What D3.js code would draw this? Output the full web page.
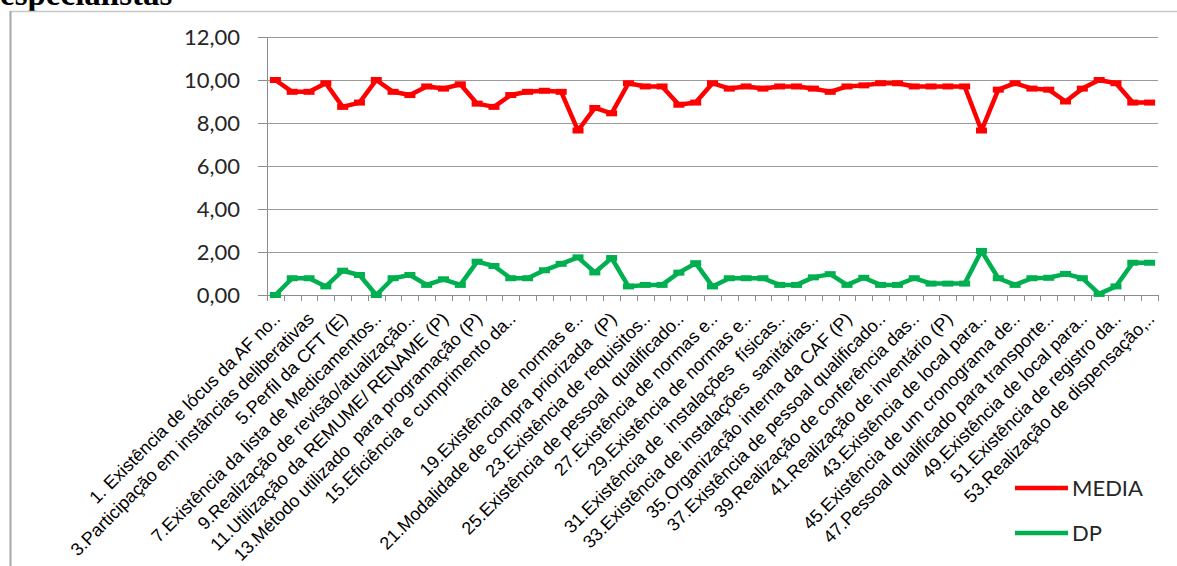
<!DOCTYPE html>
<html><head><meta charset="utf-8">
<script src="https://cdn.jsdelivr.net/npm/d3@7"></script>
<style>body{margin:0;background:#fff} svg{display:block}</style>
</head><body><svg id="c" width="1177" height="566"></svg>
<script>
// ---- data ----
const categories = d3.range(1, 54); // item numbers 1..53
const tickLabels = [
  "1. Existência de lócus da AF no..",
  "3.Participação em instâncias deliberativas",
  "5.Perfil da CFT (E)",
  "7.Existência da lista de Medicamentos..",
  "9.Realização de revisão/atualização..",
  "11.Utilização da REMUME/ RENAME (P)",
  "13.Método utilizado  para programação (P)",
  "15.Eficiência e cumprimento da..",
  "",
  "19.Existência de normas e..",
  "21.Modalidade de compra priorizada  (P)",
  "23.Existência de requisitos..",
  "25.Existência de pessoal  qualificado..",
  "27.Existência de normas e..",
  "29.Existência de normas e..",
  "31.Existência de  instalações  físicas..",
  "33.Existência de instalações  sanitárias..",
  "35.Organização interna da CAF (P)",
  "37.Existência de pessoal qualificado..",
  "39.Realização de conferência das..",
  "41.Realização de inventário (P)",
  "43.Existência de local para..",
  "45.Existência de um cronograma de..",
  "47.Pessoal qualificado para transporte..",
  "49.Existência de local para..",
  "51.Existência de registro da..",
  "53.Realização de dispensação,.."
];
const media = [10.0, 9.45, 9.45, 9.85, 8.75, 8.95, 10.0, 9.45, 9.3, 9.7, 9.6, 9.8, 8.9, 8.75, 9.3, 9.45, 9.5, 9.45, 7.65, 8.7, 8.45, 9.85, 9.7, 9.7, 8.85, 8.95, 9.85, 9.6, 9.7, 9.6, 9.7, 9.7, 9.6, 9.45, 9.7, 9.75, 9.85, 9.85, 9.7, 9.7, 9.7, 9.7, 7.65, 9.55, 9.85, 9.6, 9.55, 9.0, 9.6, 10.0, 9.85, 8.95, 8.95];
const dp = [0.0, 0.78, 0.78, 0.4, 1.13, 0.93, 0.0, 0.78, 0.93, 0.47, 0.73, 0.47, 1.55, 1.35, 0.78, 0.78, 1.15, 1.45, 1.75, 1.05, 1.72, 0.4, 0.47, 0.47, 1.04, 1.48, 0.4, 0.78, 0.78, 0.78, 0.47, 0.47, 0.82, 0.97, 0.47, 0.8, 0.47, 0.47, 0.78, 0.53, 0.53, 0.53, 2.05, 0.78, 0.47, 0.78, 0.8, 0.98, 0.78, 0.05, 0.4, 1.5, 1.5];
const yTicks = [0, 2, 4, 6, 8, 10, 12];
const seriesNames = ["MEDIA", "DP"];
const seriesColors = ["#ff0000", "#00b050"];
const titleText = "especialistas";

// ---- drawing ----
const svg = d3.select("#c");
const L = 267, R = 1158, T = 37, B = 295;
const x = d3.scaleBand().domain(categories).range([L, R]);
const y = d3.scaleLinear().domain([0, 12]).range([B, T]);
const cx = d => x(d) + x.bandwidth() / 2;
const fmt = v => d3.format(".2f")(v).replace(".", ",");

// page title (cut off at top, as in the source page) and frame
svg.append("text").attr("x", 0).attr("y", 5)
  .attr("font-family", "'Liberation Serif','DejaVu Serif',serif")
  .attr("font-weight", "bold").attr("font-size", 33).attr("fill", "#000")
  .text(titleText);
svg.append("line").attr("x1", 10).attr("x2", 1177).attr("y1", 11.5).attr("y2", 11.5)
  .attr("stroke", "#c8c8c8").attr("stroke-width", 1.5);
svg.append("line").attr("x1", 10.5).attr("x2", 10.5).attr("y1", 11).attr("y2", 566)
  .attr("stroke", "#a8a8a8").attr("stroke-width", 2);

// gridlines + y axis
const yAxis = d3.axisLeft(y).tickValues(yTicks).tickFormat(fmt).tickSize(9).tickPadding(18);
const gy = svg.append("g").attr("transform", `translate(${L},0)`).call(yAxis);
gy.select(".domain").attr("stroke", "#8c8c8c");
gy.selectAll(".tick line").attr("stroke", "#8c8c8c");
gy.selectAll(".tick text").attr("font-family", "Lato, 'Open Sans', sans-serif")
  .attr("font-size", 22).attr("fill", "#262626");
svg.append("g").selectAll("line").data(yTicks.filter(v => v > 0)).join("line")
  .attr("x1", L).attr("x2", R).attr("y1", d => Math.round(y(d)) + 0.5).attr("y2", d => Math.round(y(d)) + 0.5)
  .attr("stroke", "#9a9a9a").attr("stroke-width", 1);

// x axis: ticks at category boundaries
const gx = svg.append("g");
gx.append("line").attr("x1", L).attr("x2", R).attr("y1", B + 0.5).attr("y2", B + 0.5).attr("stroke", "#8c8c8c");
const bounds = categories.map(c => x(c)).concat([R]);
gx.selectAll("line.t").data(bounds).join("line").attr("class", "t")
  .attr("x1", d => Math.round(d) + 0.5).attr("x2", d => Math.round(d) + 0.5)
  .attr("y1", B).attr("y2", B + 6).attr("stroke", "#8c8c8c");

// category labels (every other)
gx.selectAll("text").data(tickLabels).join("text")
  .attr("transform", (d, i) => `translate(${cx(categories[i * 2]) + 6},${B + 25}) rotate(-45)`)
  .attr("text-anchor", "end")
  .attr("font-family", "'Liberation Sans', Arial, sans-serif")
  .attr("font-size", 18).attr("fill", "#000")
  .style("white-space", "pre")
  .text(d => d);

// series
const series = [media, dp];
series.forEach((vals, si) => {
  const line = d3.line().x((d, i) => cx(categories[i])).y(d => y(d));
  svg.append("path").datum(vals).attr("d", line)
    .attr("fill", "none").attr("stroke", seriesColors[si]).attr("stroke-width", 4.5)
    .attr("stroke-linejoin", "round");
  svg.append("g").selectAll("rect").data(vals).join("rect")
    .attr("x", (d, i) => cx(categories[i]) - 5.5).attr("y", d => y(d) - 3)
    .attr("width", 11).attr("height", 6).attr("fill", seriesColors[si]);
});

// legend
const lg = svg.append("g");
seriesNames.forEach((n, i) => {
  const yy = 488 + i * 45;
  lg.append("line").attr("x1", 1015).attr("x2", 1068).attr("y1", yy).attr("y2", yy)
    .attr("stroke", seriesColors[i]).attr("stroke-width", 4.5);
  lg.append("text").attr("x", 1072).attr("y", yy + 8)
    .attr("font-family", "Lato, 'Open Sans', sans-serif").attr("font-size", 22).attr("fill", "#262626")
    .text(n);
});
</script>
</body></html>
